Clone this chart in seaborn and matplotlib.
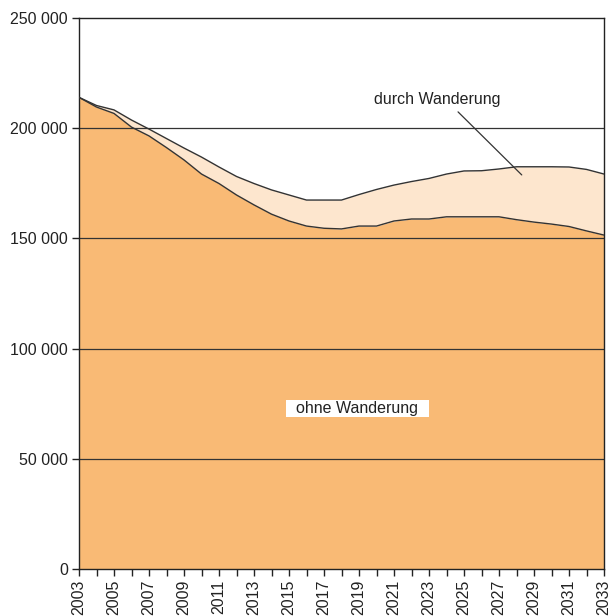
import matplotlib
matplotlib.use("Agg")
import matplotlib.pyplot as plt
import seaborn as sns
import pandas as pd
import numpy as np

years = list(range(2003, 2034))
ohne_wanderung = [214000, 209600, 206700, 200500, 196500, 191200, 185600, 179200, 174900,
                  169700, 165200, 161000, 157900, 155600, 154600, 154300, 155600, 155600,
                  157900, 158800, 158800, 159800, 159800, 159800, 159800, 158500, 157400,
                  156500, 155400, 153400, 151500]
mit_wanderung = [214000, 210300, 208300, 203700, 199600, 195300, 191000, 186900, 182400,
                 178100, 174900, 172000, 169700, 167400, 167400, 167400, 169900, 172200,
                 174200, 175800, 177200, 179200, 180600, 180700, 181500, 182500, 182500,
                 182500, 182400, 181300, 179200]
y_ticks = [0, 50000, 100000, 150000, 200000, 250000]
y_tick_labels = ["0", "50 000", "100 000", "150 000", "200 000", "250 000"]

df = pd.DataFrame({"Jahr": years, "ohne": ohne_wanderung, "mit": mit_wanderung})

sns.set_theme(style="white")
plt.rcParams["font.family"] = ["Liberation Sans", "DejaVu Sans"]

fig = plt.figure(figsize=(6.12, 6.16), dpi=100)
ax = fig.add_axes([79/612, 47/616, 525/612, 551/616])

c_orange = "#F9BA75"
c_light = "#FDE6CE"
c_line = "#333333"
fs = 11.5

ax.fill_between(df["Jahr"], 0, df["ohne"], color=c_orange, lw=0, zorder=1)
ax.fill_between(df["Jahr"], df["ohne"], df["mit"], color=c_light, lw=0, zorder=1)

for yv in y_ticks[1:-1]:
    ax.axhline(yv, color=c_line, lw=0.9, zorder=2)

sns.lineplot(data=df, x="Jahr", y="ohne", color=c_line, lw=1.0, ax=ax, zorder=3)
sns.lineplot(data=df, x="Jahr", y="mit", color=c_line, lw=1.0, ax=ax, zorder=3)

ax.set_xlim(2003, 2033)
ax.set_ylim(0, 250000)
ax.set_xlabel("")
ax.set_ylabel("")

ax.set_xticks(years)
ax.set_xticklabels([str(y) if (y - 2003) % 2 == 0 else "" for y in years],
                   rotation=90, fontsize=fs, color="#222222")
ax.set_yticks(y_ticks)
ax.set_yticklabels(y_tick_labels, fontsize=fs, color="#222222")
ax.tick_params(axis="both", direction="out", length=5, width=1, color="#222222",
               bottom=True, left=True, pad=3)

for s in ["left", "bottom", "top", "right"]:
    ax.spines[s].set_visible(True)
    ax.spines[s].set_color("#222222")
    ax.spines[s].set_linewidth(1.0)

ax.text(2023.5, 212800, "durch Wanderung", fontsize=fs, ha="center", va="center",
        color="#222222", zorder=5)
ax.plot([2024.66, 2028.3], [207400, 178800], color=c_line, lw=0.9, zorder=5)

ax.text(2018.9, 72800, "  ohne Wanderung  ", fontsize=fs, ha="center", va="center",
        color="#222222", zorder=5,
        bbox=dict(boxstyle="square,pad=0.08", fc="white", ec="none"))

fig.savefig("out.png", dpi=100)
